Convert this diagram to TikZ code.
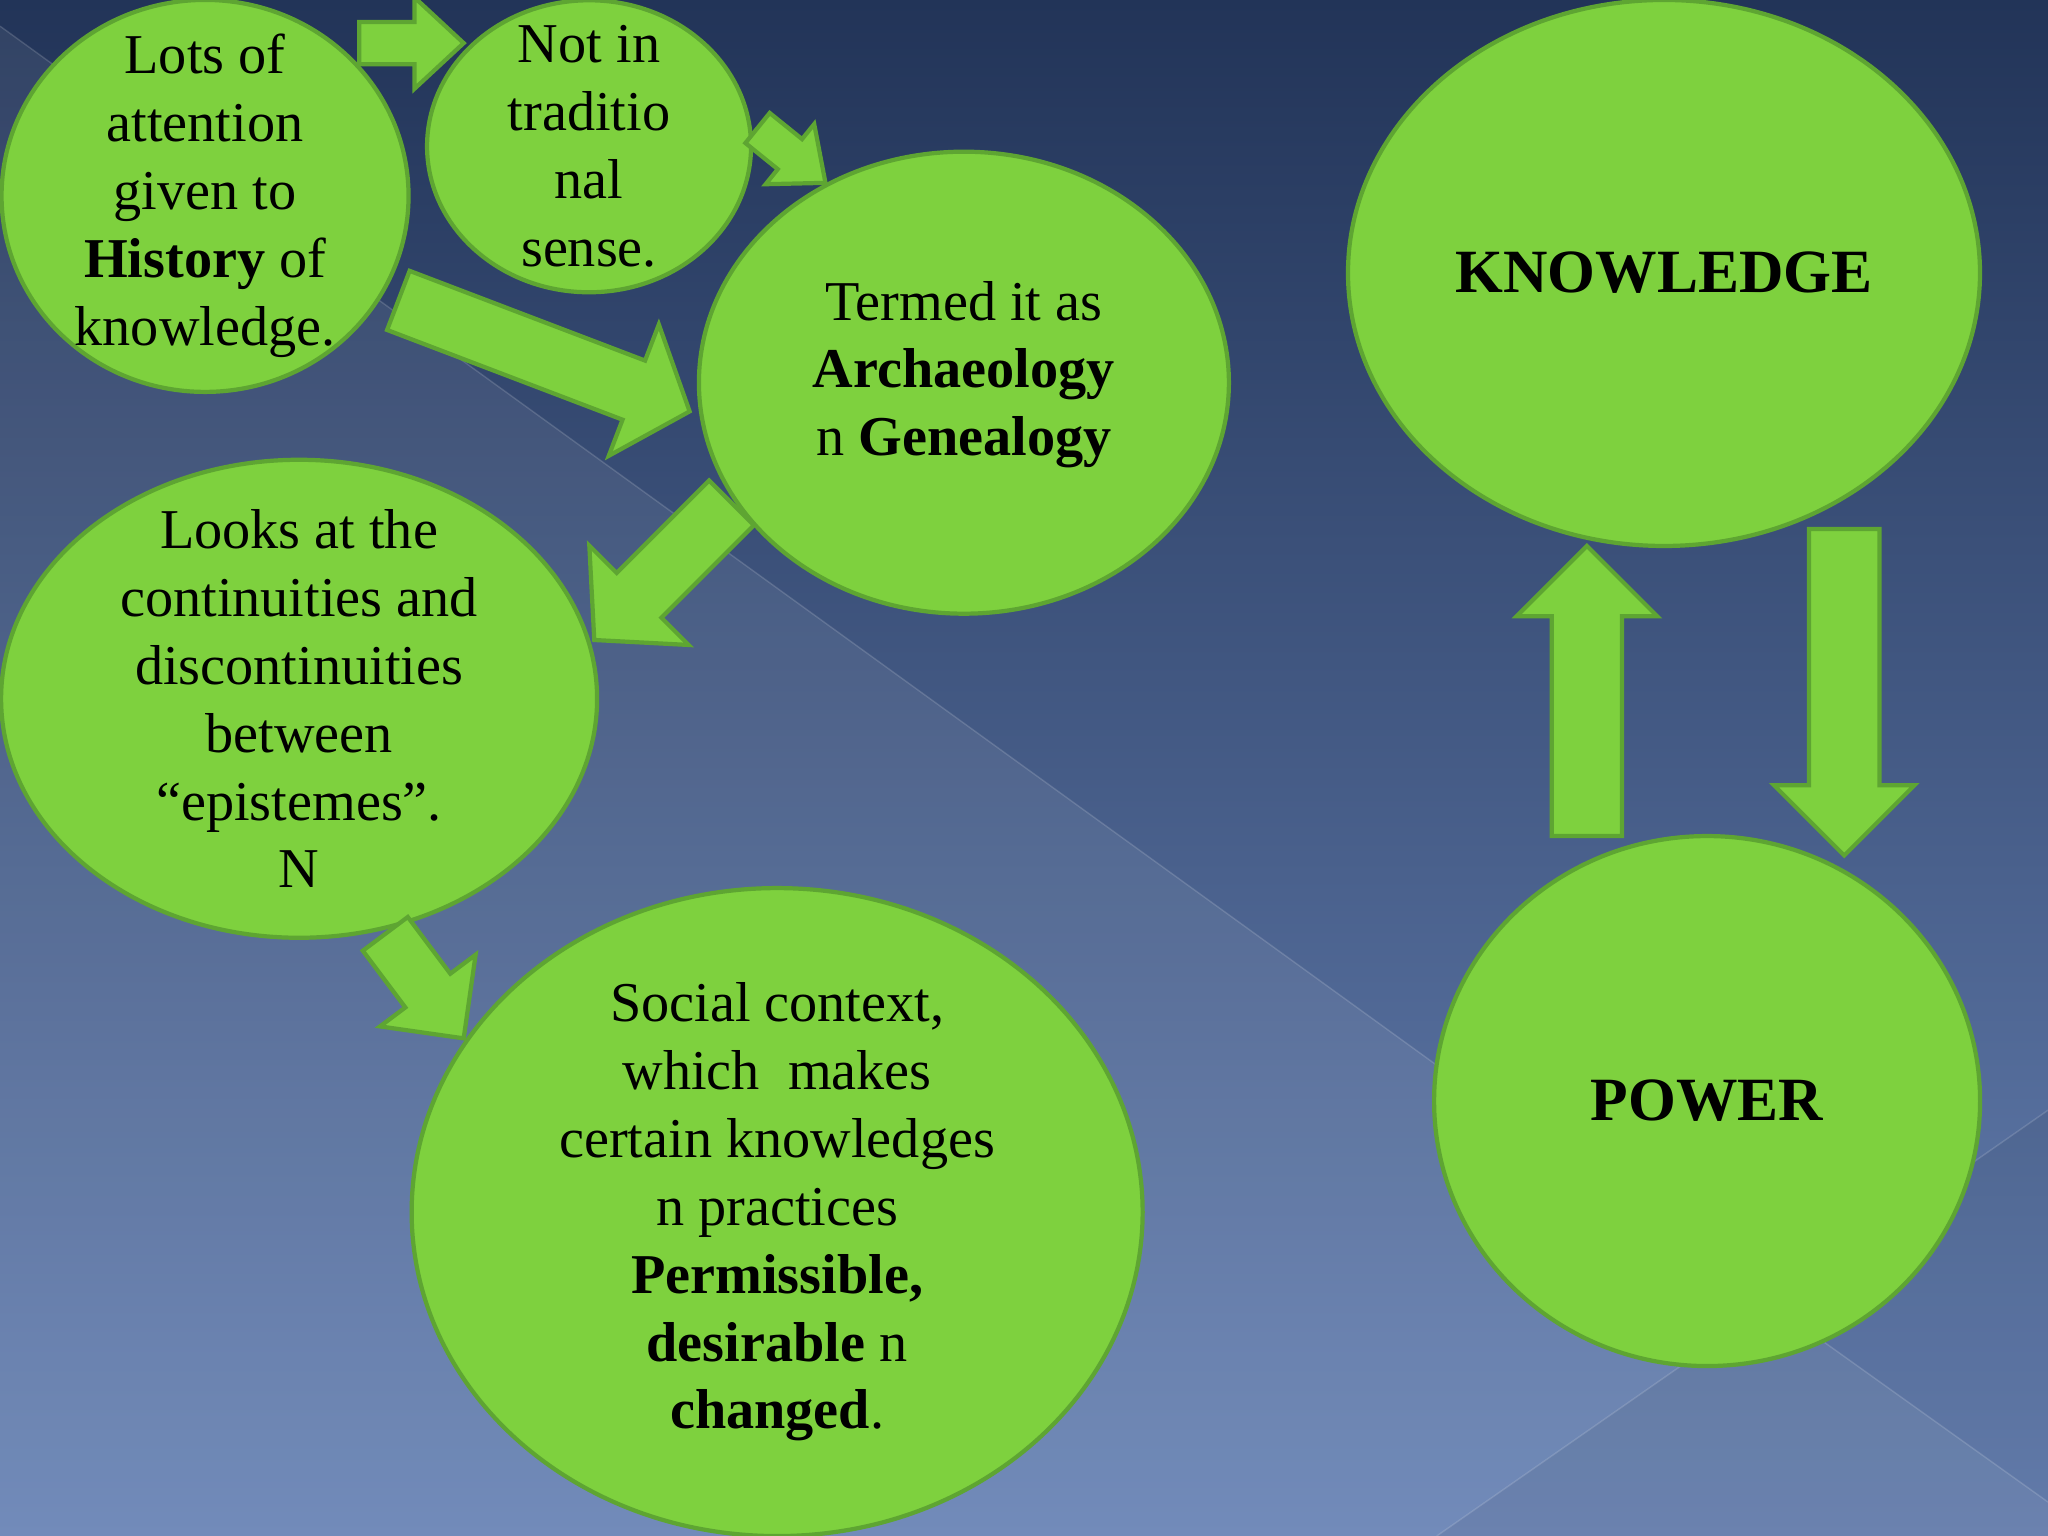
\documentclass[tikz,border=0pt]{standalone}
\usepackage{fontspec}
\setmainfont{Liberation Serif}
\usetikzlibrary{calc,shapes.geometric}
\definecolor{bgtop}{HTML}{223458}
\definecolor{bgbot}{HTML}{6883B5}
\definecolor{gfill}{HTML}{7ED13E}
\definecolor{gline}{HTML}{5EA532}
\tikzset{
 bub/.style={ellipse,fill=gfill,draw=gline,line width=1.2pt,inner sep=0pt},
 btxt/.style={align=center,inner sep=0pt,font=\fontsize{16}{19.3}\selectfont},
 bigtxt/.style={inner sep=0pt,font=\bfseries\fontsize{17.5}{21}\selectfont},
 barrowst/.style={fill=gfill,draw=gline,line width=1.2pt,line join=miter}
}
\newcommand\barrow[5]{%
 \coordinate (h) at ($(#2)!#5!(#1)$);
 \draw[barrowst] ($(#1)!#3!90:(#2)$) -- ($(h)!#3!-90:(#1)$) -- ($(h)!#4!-90:(#1)$) -- (#2)
   -- ($(h)!#4!90:(#1)$) -- ($(h)!#3!90:(#1)$) -- ($(#1)!#3!-90:(#2)$) -- cycle;}
\begin{document}
\begin{tikzpicture}[x=0.01306cm,y=-0.01306cm]
\useasboundingbox (0,0) rectangle (1568,1176);
\shade[top color=bgtop,bottom color=bgbot] (0,0) rectangle (1568,1176);
\fill[white,opacity=0.07] (0,20) -- (1120,830) -- (1568,1150) -- (1568,1176) -- (0,1176) -- cycle;
\fill[black,opacity=0.06] (1100,1176) -- (1568,850) -- (1568,1176) -- cycle;
\draw[white,opacity=0.15] (0,20) -- (1120,830) -- (1568,1150);
\draw[white,opacity=0.15] (1100,1176) -- (1568,850);
% bubbles
\node[bub,minimum width=4.07cm,minimum height=3.92cm] (n1) at (157,150) {};
\node[btxt] at (n1.center) {Lots of\\attention\\given to\\\textbf{History} of\\knowledge.};
\node[bub,minimum width=3.24cm,minimum height=2.92cm] (n2) at (451,112) {};
\node[btxt] at (n2.center) {Not in\\traditio\\nal\\sense.};
\node[bub,minimum width=5.3cm,minimum height=4.62cm] (n3) at (738,293) {};
\node[btxt] at ([yshift=0.08cm]n3.center) {Termed it as\\\textbf{Archaeology}\\n \textbf{Genealogy}};
\node[bub,minimum width=5.96cm,minimum height=4.78cm] (n4) at (229,535) {};
\node[btxt] at (n4.center) {Looks at the\\continuities and\\discontinuities\\between\\“epistemes”.\\N};
\node[bub,minimum width=7.31cm,minimum height=6.48cm] (n5) at (595,928) {};
\node[btxt] at (n5.center) {Social context,\\which\ \ makes\\certain knowledges\\n practices\\\textbf{Permissible,}\\\textbf{desirable} n\\\textbf{changed}.};
\node[bub,minimum width=6.32cm,minimum height=5.46cm] (k) at (1274,209) {};
\node[bigtxt] at (k.center) {KNOWLEDGE};
\node[bub,minimum width=5.46cm,minimum height=5.3cm] (p) at (1307,843) {};
\node[bigtxt] at (p.center) {POWER};
% arrows
\coordinate (a1) at (275,33); \coordinate (a2) at (355,33);
\barrow{a1}{a2}{6pt}{13pt}{14pt}
\coordinate (b1) at (580,98); \coordinate (b2) at (632,140);
\barrow{b1}{b2}{5.5pt}{11pt}{13pt}
\coordinate (c1) at (305,230); \coordinate (c2) at (528,315);
\barrow{c1}{c2}{9pt}{20pt}{17pt}
\coordinate (d1) at (560,385); \coordinate (d2) at (455,490);
\barrow{d1}{d2}{9pt}{20pt}{18pt}
\coordinate (e1) at (295,715); \coordinate (e2) at (355,795);
\barrow{e1}{e2}{8pt}{17pt}{17pt}
\coordinate (f1) at (1215,640); \coordinate (f2) at (1215,418);
\barrow{f1}{f2}{10pt}{20pt}{20pt}
\coordinate (g1) at (1412,405); \coordinate (g2) at (1412,655);
\barrow{g1}{g2}{10pt}{20pt}{20pt}
\end{tikzpicture}
\end{document}
